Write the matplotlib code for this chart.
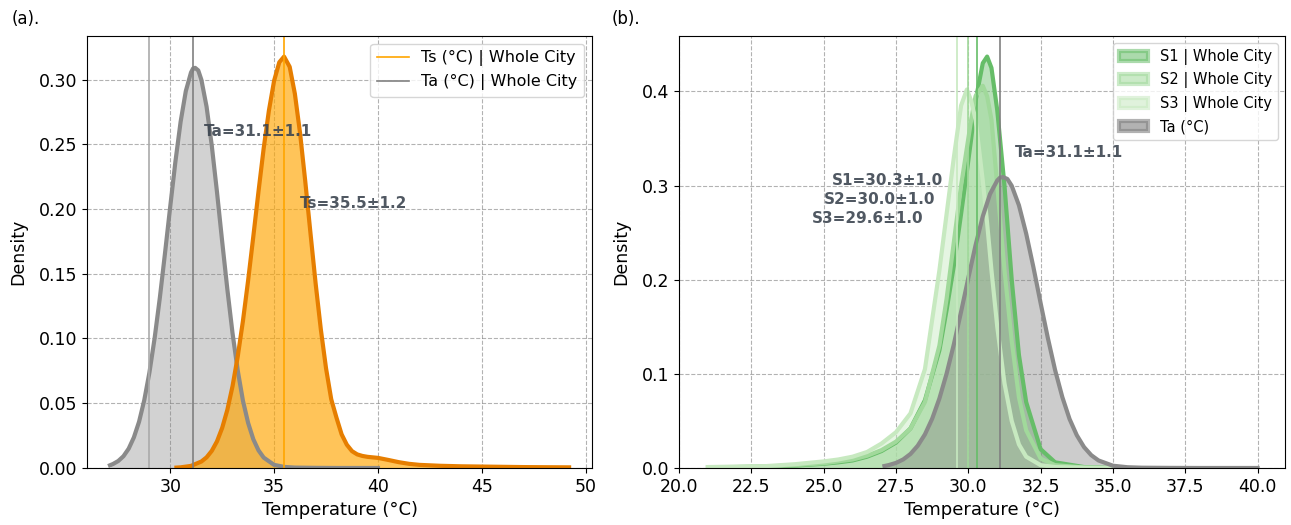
#=======================#
# Libraries importation #
#=======================#

import matplotlib
matplotlib.use("Agg")
import matplotlib.pyplot as plt
from matplotlib.patches import Patch

#==================#
# Global variables #
#==================#

TA_COLOR = "#8a8a8a"
TS_LINE = "#e67e00"
TS_FILL = "#ffa500"
TEXT_COLOR = "#3d4651"
S_COLORS = ["#66bd68", "#a1d99b", "#c7e9c0"]

# Ta (air temperature) density curve
ta_x = [27.1, 27.25, 27.5, 27.75, 28.0, 28.25, 28.5, 28.75, 29.0, 29.25, 29.5, 29.75, 30.0,
        30.25, 30.5, 30.75, 31.0, 31.1, 31.2, 31.35, 31.5, 31.75, 32.0, 32.25, 32.5, 32.75,
        33.0, 33.25, 33.5, 33.75, 34.0, 34.25, 34.5, 35.0, 35.5, 36.0, 37.0, 38.0, 39.0, 40.0]
ta_y = [0.0021, 0.0031, 0.0054, 0.0091, 0.0149, 0.0236, 0.0357, 0.0523, 0.0738, 0.1003, 0.1314,
        0.166, 0.2018, 0.2366, 0.2673, 0.291, 0.3054, 0.3085, 0.309, 0.307, 0.2998, 0.279,
        0.249, 0.2133, 0.175, 0.138, 0.104, 0.0753, 0.052, 0.0348, 0.0222, 0.0136, 0.008,
        0.0024, 0.0008, 0.0003, 0.0001, 0.0, 0.0, 0.0]

# Ts (surface temperature) density curve
ts_x = [30.3, 30.5, 31.0, 31.5, 31.75, 32.0, 32.25, 32.5, 32.75, 33.0, 33.25, 33.5, 33.75,
        34.0, 34.25, 34.5, 34.75, 35.0, 35.25, 35.48, 35.75, 36.0, 36.25, 36.5, 36.75, 37.0,
        37.25, 37.5, 37.75, 38.0, 38.25, 38.5, 38.75, 39.0, 39.25, 39.5, 39.75, 40.0, 40.25,
        40.5, 41.0, 41.5, 42.0, 43.0, 44.0, 45.0, 46.0, 47.0, 48.0, 49.2]
ts_y = [0.0003, 0.0005, 0.0016, 0.005, 0.0082, 0.0132, 0.0205, 0.0309, 0.0449, 0.0632, 0.0861,
        0.1135, 0.1448, 0.1788, 0.2136, 0.247, 0.276, 0.299, 0.3133, 0.3177, 0.3098, 0.289,
        0.2586, 0.2214, 0.1815, 0.1424, 0.107, 0.077, 0.0531, 0.039, 0.026, 0.018, 0.013,
        0.0105, 0.0093, 0.0086, 0.0082, 0.0078, 0.007, 0.0062, 0.0045, 0.0032, 0.0024, 0.0017,
        0.0013, 0.0011, 0.0009, 0.0007, 0.0006, 0.0005]

# Scenario curves (b)
s_x = [21.0, 22.0, 23.0, 24.0, 25.0, 25.5, 26.0, 26.5, 27.0, 27.5, 28.0, 28.5, 29.0, 29.25,
       29.5, 29.75, 29.95, 30.1, 30.25, 30.5, 30.65, 30.8, 31.0, 31.25, 31.5, 31.75, 32.0,
       32.5, 33.0, 34.0, 35.0]
s1_y = [0.0008, 0.001, 0.0015, 0.0025, 0.0045, 0.006, 0.008, 0.012, 0.018, 0.027, 0.042, 0.072,
        0.125, 0.168, 0.215, 0.27, 0.315, 0.35, 0.39, 0.43, 0.437, 0.425, 0.38, 0.3, 0.2,
        0.12, 0.07, 0.02, 0.006, 0.001, 0.0]
s2_y = [0.0008, 0.001, 0.0015, 0.003, 0.005, 0.007, 0.009, 0.013, 0.019, 0.028, 0.042, 0.07,
        0.13, 0.18, 0.24, 0.3, 0.34, 0.37, 0.395, 0.406, 0.395, 0.37, 0.3, 0.21, 0.135, 0.075,
        0.04, 0.01, 0.003, 0.0005, 0.0]
s3_y = [0.001, 0.0015, 0.002, 0.004, 0.007, 0.009, 0.012, 0.017, 0.026, 0.038, 0.058, 0.105,
        0.21, 0.27, 0.33, 0.385, 0.402, 0.39, 0.37, 0.305, 0.26, 0.21, 0.15, 0.09, 0.05,
        0.025, 0.012, 0.003, 0.001, 0.0003, 0.0]
s_names = ["S1", "S2", "S3"]
s_means = [30.3, 30.0, 29.6]
s_stds = [1.0, 1.0, 1.0]
ta_mean, ta_std = 31.1, 1.1
ts_mean, ts_std = 35.5, 1.2
ta_low_line = 29.0

plt.rcParams["font.family"] = "DejaVu Sans"

fig = plt.figure(figsize=(12.91, 5.25), dpi=100)
ax1 = fig.add_axes([0.0674, 0.1086, 0.3912, 0.8228])
ax2 = fig.add_axes([0.526, 0.1086, 0.4694, 0.8228])

#=========#
# Panel a #
#=========#

ax1.fill_between(ta_x, ta_y, color="gray", alpha=0.35, lw=0)
ax1.plot(ta_x, ta_y, color=TA_COLOR, lw=3, solid_joinstyle="round")
ax1.fill_between(ts_x, ts_y, color=TS_FILL, alpha=0.65, lw=0)
ax1.plot(ts_x, ts_y, color=TS_LINE, lw=3, solid_joinstyle="round")

ax1.axvline(ts_mean, color=TS_FILL, lw=1.2, label="Ts (°C) | Whole City")
ax1.axvline(ta_mean, color="gray", lw=1.2, label="Ta (°C) | Whole City")
ax1.axvline(ta_low_line, color="#aaaaaa", lw=1.2)

ax1.text(ta_mean + 0.5, 0.26, f"Ta={ta_mean:.1f}±{ta_std:.1f}", color=TEXT_COLOR,
         fontsize=11, fontweight="bold", va="center", alpha=0.9)
ax1.text(ts_mean + 0.75, 0.204, f"Ts={ts_mean:.1f}±{ts_std:.1f}", color=TEXT_COLOR,
         fontsize=11, fontweight="bold", va="center", alpha=0.9)

ax1.set_ylim(0, None)
ax1.set_yticks([0, 0.05, 0.10, 0.15, 0.20, 0.25, 0.30])
ax1.set_yticklabels([f"{v:.2f}" for v in ax1.get_yticks()])
ax1.legend(loc="upper right", fontsize=11.5)

#=========#
# Panel b #
#=========#

for name, ys, col in zip(s_names, [s1_y, s2_y, s3_y], S_COLORS):
    ax2.fill_between(s_x, ys, color=col, alpha=0.45, lw=0)
    ax2.plot(s_x, ys, color=col, lw=3, solid_joinstyle="round")
ax2.fill_between(ta_x, ta_y, color="gray", alpha=0.4, lw=0)
ax2.plot(ta_x, ta_y, color=TA_COLOR, lw=3, solid_joinstyle="round")

for m, col in zip(s_means, S_COLORS):
    ax2.axvline(m, color=col, lw=1.2)
ax2.axvline(ta_mean, color="gray", lw=1.2)

for i, (name, m, sd) in enumerate(zip(s_names, s_means, s_stds)):
    ax2.text(m - 5, 0.305 - 0.02 * i, f"{name}={m:.1f}±{sd:.1f}", color=TEXT_COLOR,
             fontsize=11, fontweight="bold", va="center", alpha=0.9)
ax2.text(ta_mean + 0.5, 0.335, f"Ta={ta_mean:.1f}±{ta_std:.1f}", color=TEXT_COLOR,
         fontsize=11, fontweight="bold", va="center", alpha=0.9)

handles = [Patch(facecolor=col, edgecolor=col, alpha=0.55, lw=3, label=f"{n} | Whole City")
           for n, col in zip(s_names, S_COLORS)]
handles.append(Patch(facecolor="gray", edgecolor="gray", alpha=0.6, lw=3, label="Ta (°C)"))
ax2.legend(handles=handles, loc="upper right", fontsize=10.5)
ax2.set_ylim(0, None)
ax2.set_xticks([20.0, 22.5, 25.0, 27.5, 30.0, 32.5, 35.0, 37.5, 40.0])
ax2.set_xticklabels([f"{v:.1f}" for v in ax2.get_xticks()])

for ax in [ax1, ax2]:
    ax.set_xlabel("Temperature (°C)", fontsize=13)
    ax.set_ylabel("Density", fontsize=12.5, labelpad=8)
    ax.tick_params(labelsize=12.5)
    ax.grid(True, ls="--", color="gray", alpha=0.6, lw=0.8)
    ax.set_axisbelow(True)

fig.text(0.009, 0.955, "(a).", fontsize=12)
fig.text(0.474, 0.955, "(b).", fontsize=12)

fig.savefig("out.png", dpi=100)
